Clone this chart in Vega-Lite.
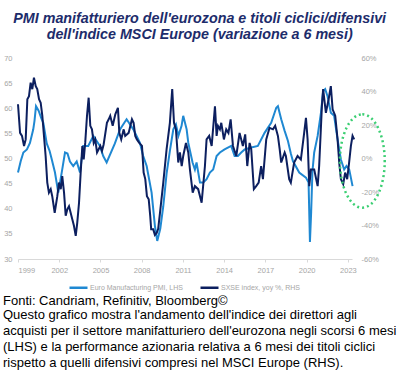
{
  "$schema": "https://vega.github.io/schema/vega-lite/v6.json",
  "padding": {"left": 3, "right": 2, "top": 12, "bottom": 0},
  "background": "white",
  "title": {
    "text": ["PMI manifatturiero dell'eurozona e titoli ciclici/difensivi", "dell'indice MSCI Europe (variazione a 6 mesi)"],
    "font": "Liberation Sans", "fontSize": 14.3, "fontWeight": "bold", "fontStyle": "italic",
    "color": "#1d2c6b", "lineHeight": 15.5, "anchor": "middle", "offset": 12
  },
  "datasets": {
    "pmi": [
      {"year": 1999.00, "value": 47.2}, {"year": 1999.20, "value": 49.5}, {"year": 1999.39, "value": 51.2}, {"year": 1999.65, "value": 51.8},
      {"year": 1999.87, "value": 53.1}, {"year": 2000.11, "value": 55.8}, {"year": 2000.20, "value": 57.5}, {"year": 2000.31, "value": 60.4},
      {"year": 2000.50, "value": 59.5}, {"year": 2000.70, "value": 58.0}, {"year": 2000.84, "value": 57.1}, {"year": 2001.09, "value": 53.0},
      {"year": 2001.30, "value": 51.5}, {"year": 2001.45, "value": 49.9}, {"year": 2001.69, "value": 47.2}, {"year": 2001.93, "value": 43.2},
      {"year": 2002.18, "value": 47.2}, {"year": 2002.42, "value": 51.2}, {"year": 2002.60, "value": 51.0}, {"year": 2002.78, "value": 49.4},
      {"year": 2003.02, "value": 48.5}, {"year": 2003.27, "value": 49.4}, {"year": 2003.51, "value": 47.2}, {"year": 2003.75, "value": 52.5},
      {"year": 2004.11, "value": 52.5}, {"year": 2004.48, "value": 54.5}, {"year": 2004.96, "value": 52.5}, {"year": 2005.20, "value": 50.5},
      {"year": 2005.45, "value": 49.2}, {"year": 2006.05, "value": 53.0}, {"year": 2006.42, "value": 55.8}, {"year": 2006.90, "value": 57.8},
      {"year": 2007.39, "value": 55.8}, {"year": 2007.87, "value": 53.1}, {"year": 2008.11, "value": 50.5}, {"year": 2008.36, "value": 48.5},
      {"year": 2008.72, "value": 43.2}, {"year": 2008.96, "value": 36.6}, {"year": 2009.13, "value": 33.6}, {"year": 2009.35, "value": 36.0},
      {"year": 2009.57, "value": 40.5}, {"year": 2009.81, "value": 47.0}, {"year": 2010.05, "value": 51.5}, {"year": 2010.30, "value": 55.8},
      {"year": 2010.49, "value": 56.8}, {"year": 2010.67, "value": 54.5}, {"year": 2010.90, "value": 56.5}, {"year": 2011.02, "value": 58.5},
      {"year": 2011.27, "value": 55.8}, {"year": 2011.39, "value": 53.1}, {"year": 2011.70, "value": 49.2}, {"year": 2011.87, "value": 47.8},
      {"year": 2011.99, "value": 49.2}, {"year": 2012.24, "value": 45.2}, {"year": 2012.48, "value": 45.2}, {"year": 2012.72, "value": 45.9},
      {"year": 2012.96, "value": 47.2}, {"year": 2013.20, "value": 47.8}, {"year": 2013.45, "value": 50.5}, {"year": 2013.69, "value": 51.2},
      {"year": 2014.03, "value": 51.8}, {"year": 2014.51, "value": 52.5}, {"year": 2014.76, "value": 50.5}, {"year": 2015.00, "value": 50.5},
      {"year": 2015.24, "value": 51.2}, {"year": 2015.49, "value": 51.8}, {"year": 2015.97, "value": 52.2}, {"year": 2016.45, "value": 52.5},
      {"year": 2016.94, "value": 55.1}, {"year": 2017.42, "value": 57.1}, {"year": 2017.79, "value": 60.1}, {"year": 2017.91, "value": 60.4},
      {"year": 2018.15, "value": 57.8}, {"year": 2018.40, "value": 55.5}, {"year": 2018.64, "value": 53.5}, {"year": 2018.85, "value": 51.0},
      {"year": 2019.00, "value": 49.5}, {"year": 2019.46, "value": 47.2}, {"year": 2019.95, "value": 46.2}, {"year": 2020.14, "value": 45.2},
      {"year": 2020.24, "value": 33.4}, {"year": 2020.33, "value": 39.4}, {"year": 2020.42, "value": 47.4}, {"year": 2020.55, "value": 51.2},
      {"year": 2020.80, "value": 54.5}, {"year": 2021.04, "value": 59.1}, {"year": 2021.20, "value": 63.4}, {"year": 2021.35, "value": 63.8},
      {"year": 2021.52, "value": 62.4}, {"year": 2021.76, "value": 59.1}, {"year": 2022.00, "value": 58.5}, {"year": 2022.25, "value": 53.8},
      {"year": 2022.49, "value": 49.8}, {"year": 2022.73, "value": 47.8}, {"year": 2022.90, "value": 48.5}, {"year": 2023.10, "value": 47.8},
      {"year": 2023.34, "value": 44.5}
    ],
    "sxse": [
      {"year": 1999.00, "value": 32.4}, {"year": 1999.15, "value": 15.3}, {"year": 1999.29, "value": 13.5}, {"year": 1999.44, "value": 7.5},
      {"year": 1999.56, "value": 11.4}, {"year": 1999.68, "value": 35.4}, {"year": 1999.80, "value": 37.2}, {"year": 1999.92, "value": 45.3},
      {"year": 2000.04, "value": 41.4}, {"year": 2000.16, "value": 48.3}, {"year": 2000.29, "value": 43.2}, {"year": 2000.40, "value": 41.4},
      {"year": 2000.53, "value": 35.4}, {"year": 2000.65, "value": 33.3}, {"year": 2000.77, "value": 25.5}, {"year": 2000.89, "value": 13.5},
      {"year": 2001.01, "value": 1.5}, {"year": 2001.13, "value": -14.4}, {"year": 2001.25, "value": -20.4}, {"year": 2001.38, "value": -18.3},
      {"year": 2001.49, "value": -22.5}, {"year": 2001.67, "value": -32.4}, {"year": 2001.86, "value": -22.5}, {"year": 2001.98, "value": -14.4},
      {"year": 2002.11, "value": -18.3}, {"year": 2002.22, "value": -10.5}, {"year": 2002.35, "value": -20.4}, {"year": 2002.47, "value": -34.2},
      {"year": 2002.59, "value": -30.3}, {"year": 2002.71, "value": -28.5}, {"year": 2002.83, "value": -32.4}, {"year": 2002.95, "value": -36.3},
      {"year": 2003.07, "value": -40.2}, {"year": 2003.20, "value": -46.2}, {"year": 2003.31, "value": -38.4}, {"year": 2003.44, "value": -26.4},
      {"year": 2003.56, "value": -8.4}, {"year": 2003.68, "value": 7.5}, {"year": 2003.78, "value": -0.6}, {"year": 2003.89, "value": 9.3},
      {"year": 2004.02, "value": 25.5}, {"year": 2004.14, "value": 36.3}, {"year": 2004.26, "value": 19.5}, {"year": 2004.38, "value": 17.4},
      {"year": 2004.51, "value": 9.3}, {"year": 2004.62, "value": 11.4}, {"year": 2004.75, "value": 3.6}, {"year": 2004.99, "value": 7.5},
      {"year": 2005.11, "value": 4.5}, {"year": 2005.23, "value": 8.4}, {"year": 2005.47, "value": 21.3}, {"year": 2005.60, "value": 23.4},
      {"year": 2005.71, "value": 25.5}, {"year": 2005.89, "value": 19.5}, {"year": 2006.08, "value": 26.4}, {"year": 2006.27, "value": 30.3},
      {"year": 2006.37, "value": 15.3}, {"year": 2006.51, "value": 11.4}, {"year": 2006.69, "value": 17.4}, {"year": 2006.80, "value": 13.5},
      {"year": 2007.05, "value": 15.3}, {"year": 2007.29, "value": 23.4}, {"year": 2007.41, "value": 21.3}, {"year": 2007.53, "value": 13.5},
      {"year": 2007.65, "value": 11.4}, {"year": 2007.82, "value": 9.3}, {"year": 2008.02, "value": 7.5}, {"year": 2008.14, "value": -8.4},
      {"year": 2008.26, "value": -12.3}, {"year": 2008.38, "value": -22.5}, {"year": 2008.51, "value": -24.3}, {"year": 2008.62, "value": -34.2},
      {"year": 2008.69, "value": -42.3}, {"year": 2008.84, "value": -42.3}, {"year": 2008.96, "value": -45.6}, {"year": 2009.09, "value": -44.4},
      {"year": 2009.20, "value": -42.0}, {"year": 2009.33, "value": -32.4}, {"year": 2009.57, "value": -14.4}, {"year": 2009.81, "value": 5.4},
      {"year": 2010.05, "value": 21.3}, {"year": 2010.22, "value": 41.4}, {"year": 2010.35, "value": 21.3}, {"year": 2010.49, "value": 17.4},
      {"year": 2010.66, "value": -2.4}, {"year": 2010.78, "value": 3.6}, {"year": 2010.91, "value": -4.5}, {"year": 2011.02, "value": 1.5},
      {"year": 2011.22, "value": 9.3}, {"year": 2011.39, "value": 3.6}, {"year": 2011.51, "value": -6.6}, {"year": 2011.71, "value": -20.4},
      {"year": 2011.87, "value": -16.5}, {"year": 2012.11, "value": -18.3}, {"year": 2012.36, "value": -26.4}, {"year": 2012.60, "value": -4.5},
      {"year": 2012.72, "value": 11.4}, {"year": 2012.91, "value": 13.5}, {"year": 2013.09, "value": 7.5}, {"year": 2013.33, "value": 31.2},
      {"year": 2013.45, "value": 13.5}, {"year": 2013.55, "value": 19.5}, {"year": 2013.69, "value": 17.4}, {"year": 2013.79, "value": 21.3},
      {"year": 2013.98, "value": 11.4}, {"year": 2014.15, "value": 17.4}, {"year": 2014.31, "value": 15.3}, {"year": 2014.47, "value": 23.4},
      {"year": 2014.64, "value": 7.5}, {"year": 2014.88, "value": 1.5}, {"year": 2015.12, "value": 15.3}, {"year": 2015.36, "value": 7.5},
      {"year": 2015.53, "value": 14.4}, {"year": 2015.68, "value": -4.5}, {"year": 2015.85, "value": 9.3}, {"year": 2015.97, "value": 5.4},
      {"year": 2016.16, "value": -18.3}, {"year": 2016.33, "value": -16.5}, {"year": 2016.51, "value": -14.4}, {"year": 2016.69, "value": -4.5},
      {"year": 2016.82, "value": -12.3}, {"year": 2017.06, "value": 11.4}, {"year": 2017.30, "value": 18.3}, {"year": 2017.55, "value": 17.4},
      {"year": 2017.71, "value": 19.5}, {"year": 2017.91, "value": 13.5}, {"year": 2018.04, "value": 5.4}, {"year": 2018.15, "value": -2.4},
      {"year": 2018.40, "value": 3.6}, {"year": 2018.49, "value": 1.5}, {"year": 2018.73, "value": -12.3}, {"year": 2018.85, "value": -14.4},
      {"year": 2019.09, "value": -2.4}, {"year": 2019.34, "value": 1.5}, {"year": 2019.58, "value": -0.6}, {"year": 2019.82, "value": 15.3},
      {"year": 2019.95, "value": 24.3}, {"year": 2020.07, "value": 11.4}, {"year": 2020.19, "value": -16.5}, {"year": 2020.31, "value": -6.6},
      {"year": 2020.55, "value": -6.6}, {"year": 2020.80, "value": -16.5}, {"year": 2020.91, "value": -4.5}, {"year": 2021.11, "value": 31.2},
      {"year": 2021.20, "value": 41.4}, {"year": 2021.40, "value": 27.3}, {"year": 2021.60, "value": 35.4}, {"year": 2021.76, "value": 43.2},
      {"year": 2021.89, "value": 29.4}, {"year": 2022.08, "value": 25.5}, {"year": 2022.25, "value": 11.4}, {"year": 2022.37, "value": -2.4},
      {"year": 2022.49, "value": -12.3}, {"year": 2022.66, "value": -15.3}, {"year": 2022.80, "value": -8.4}, {"year": 2022.95, "value": -12.3},
      {"year": 2023.09, "value": -2.4}, {"year": 2023.22, "value": 7.5}, {"year": 2023.34, "value": 13.5}, {"year": 2023.46, "value": 11.4}
    ],
    "marker": [{"year": 2024.05, "value": -1.5}]
  },
  "vconcat": [
    {
      "width": 334,
      "height": 201,
      "layer": [
        {
          "data": {"name": "pmi"},
          "mark": {"type": "line", "strokeWidth": 2, "interpolate": "linear"},
          "encoding": {
            "x": {"field": "year", "type": "quantitative", "scale": {"domain": [1999, 2023.3], "nice": false, "zero": false},
              "axis": {"values": [1999, 2002, 2005, 2008, 2011, 2014, 2017, 2020, 2023], "format": "d", "title": null, "grid": false,
                "domainColor": "#d9d9d9", "tickColor": "#d9d9d9", "tickSize": 3, "labelColor": "#a6a6a6", "labelFont": "Liberation Sans",
                "labelFontSize": 7.5, "labelPadding": 4}},
            "y": {"field": "value", "type": "quantitative", "scale": {"domain": [30, 70], "nice": false, "zero": false},
              "axis": {"orient": "left", "values": [30, 35, 40, 45, 50, 55, 60, 65, 70], "title": null, "grid": false, "domain": false, "ticks": false,
                "labelColor": "#a6a6a6", "labelFont": "Liberation Sans", "labelFontSize": 7.5, "labelPadding": 6}},
            "color": {"datum": "Euro Manufacturing PMI, LHS", "type": "nominal",
              "scale": {"domain": ["Euro Manufacturing PMI, LHS", "SXSE index,  yoy %, RHS"], "range": ["#1f88d2", "#0c1f5f"]},
              "legend": {"orient": "bottom", "title": null, "direction": "horizontal", "symbolType": "stroke", "symbolSize": 324,
                "symbolStrokeWidth": 2.5, "labelFont": "Liberation Sans", "labelFontSize": 7, "labelColor": "#a6a6a6", "labelOffset": 1,
                "columnPadding": 12, "offset": 3}}
          }
        },
        {
          "data": {"name": "sxse"},
          "mark": {"type": "line", "strokeWidth": 2, "interpolate": "linear"},
          "encoding": {
            "x": {"field": "year", "type": "quantitative", "scale": {"domain": [1999, 2023.3], "nice": false, "zero": false}},
            "y": {"field": "value", "type": "quantitative", "scale": {"domain": [-60, 60], "nice": false, "zero": false},
              "axis": {"orient": "right", "values": [-60, -40, -20, 0, 20, 40, 60], "labelExpr": "datum.value + '%'", "title": null, "grid": false,
                "domain": false, "ticks": false, "labelColor": "#a6a6a6", "labelFont": "Liberation Sans", "labelFontSize": 7.5, "labelPadding": 9}},
            "color": {"datum": "SXSE index,  yoy %, RHS", "type": "nominal"}
          }
        },
        {
          "data": {"name": "marker"},
          "mark": {"type": "point", "shape": "M0,-1A0.48,1,0,1,1,0,1A0.48,1,0,1,1,0,-1Z", "size": 8724, "filled": false,
            "stroke": "#3ccf73", "strokeWidth": 2.5, "strokeDash": [2, 3], "opacity": 1},
          "encoding": {
            "x": {"field": "year", "type": "quantitative", "scale": {"domain": [1999, 2023.3], "nice": false, "zero": false}},
            "y": {"field": "value", "type": "quantitative", "scale": {"domain": [-60, 60], "nice": false, "zero": false}, "axis": null}
          }
        }
      ],
      "resolve": {"scale": {"y": "independent"}}
    },
    {
      "width": 334,
      "height": 1,
      "data": {"values": []},
      "mark": {"type": "point", "opacity": 0},
      "title": {
        "text": "Fonti: Candriam, Refinitiv, Bloomberg©",
        "subtitle": [
          "Questo grafico mostra l'andamento dell'indice dei direttori agli",
          "acquisti per il settore manifatturiero dell'eurozona negli scorsi 6 mesi",
          "(LHS) e la performance azionaria relativa a 6 mesi dei titoli ciclici",
          "rispetto a quelli difensivi compresi nel MSCI Europe (RHS)."
        ],
        "orient": "top",
        "anchor": "start",
        "frame": "group",
        "dx": -15,
        "font": "Liberation Sans", "fontSize": 13, "fontWeight": "normal", "color": "#000000", "lineHeight": 16,
        "subtitleFont": "Liberation Sans", "subtitleFontSize": 13, "subtitleColor": "#000000", "subtitleLineHeight": 16,
        "subtitlePadding": 1, "offset": 0
      }
    }
  ],
  "resolve": {"scale": {"color": "independent"}, "legend": {"color": "independent"}},
  "config": {
    "view": {"stroke": null},
    "concat": {"spacing": 2},
    "legend": {"layout": {"bottom": {"anchor": "middle"}}}
  }
}
